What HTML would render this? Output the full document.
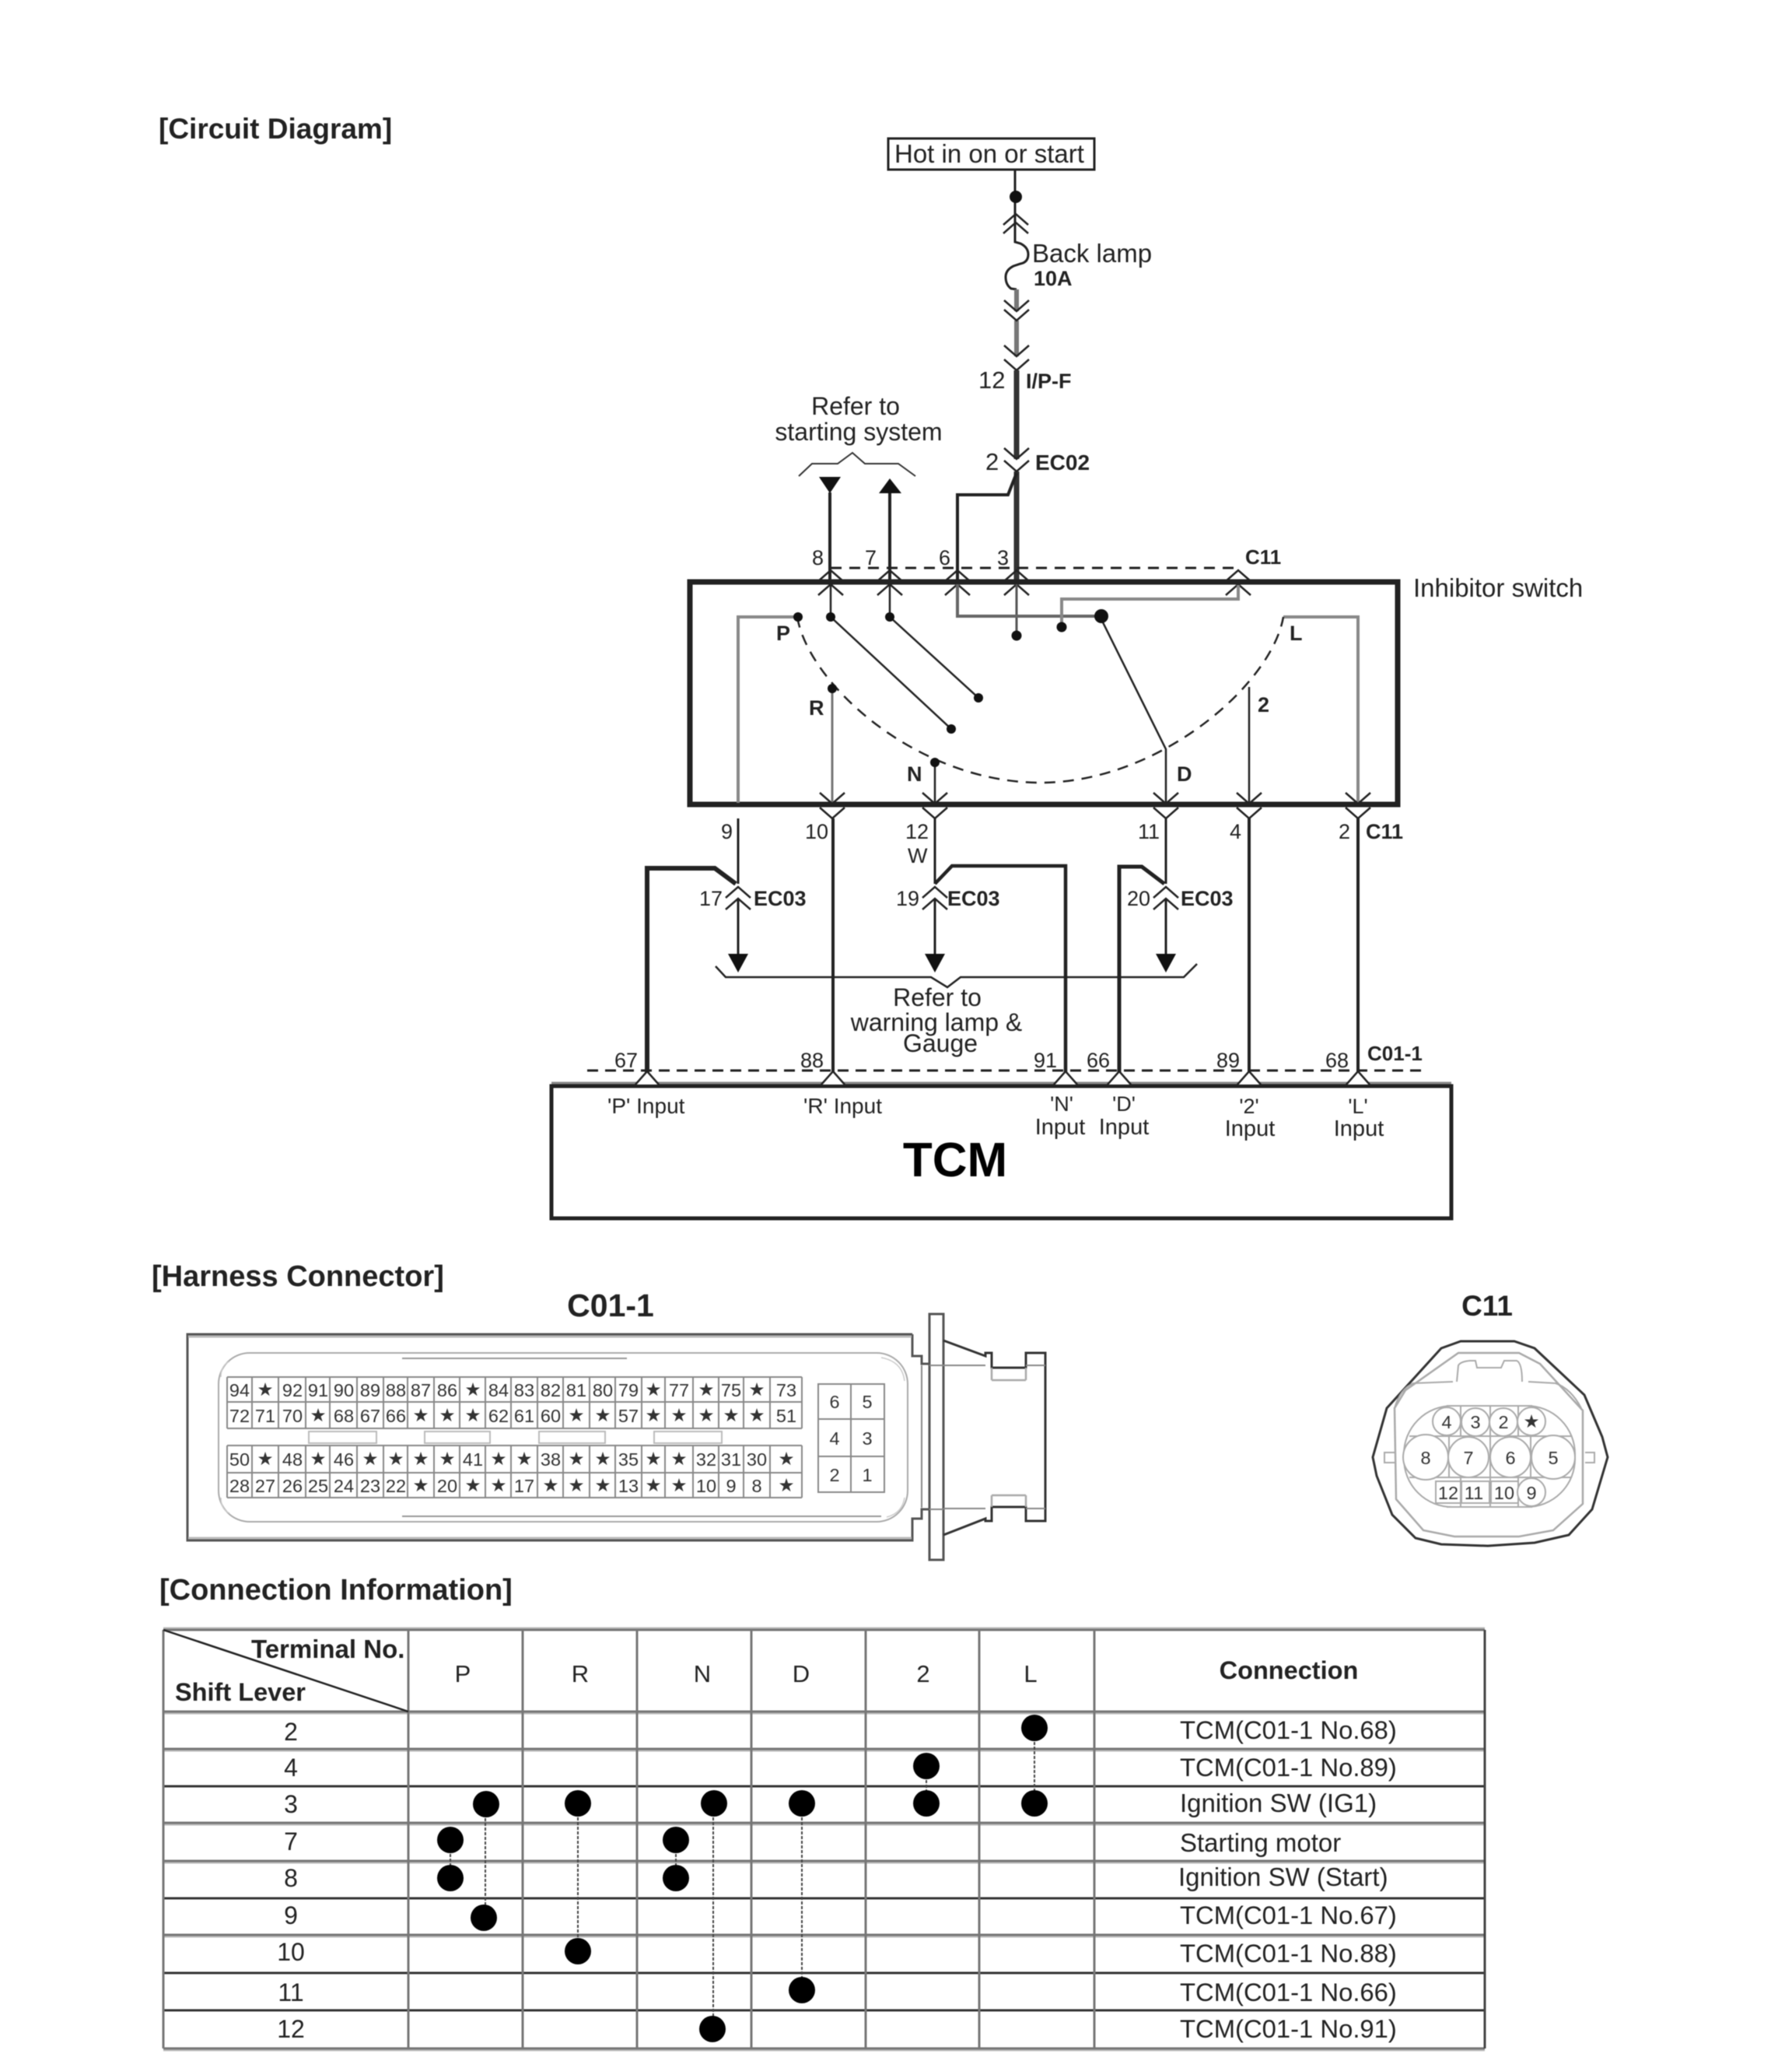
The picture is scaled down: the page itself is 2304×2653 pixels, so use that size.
<!DOCTYPE html>
<html><head><meta charset="utf-8"><style>
html,body{margin:0;padding:0;background:#fff}
svg{display:block;filter:blur(.6px)}
text{font-family:"Liberation Sans","DejaVu Sans",sans-serif;fill:#222;font-size:27px}
.b{font-weight:bold}
.m{text-anchor:middle}
.w{fill:none;stroke:#222;stroke-width:3}
.g{fill:none;stroke:#888;stroke-width:2}
.c{fill:none;stroke:#222;stroke-width:2.5}
.s text{font-size:23.5px;text-anchor:middle;fill:#333}
.st{font-family:"DejaVu Sans",sans-serif;font-size:20px;text-anchor:middle;fill:#111}
</style></head><body>
<svg width="2304" height="2653" viewBox="0 0 2304 2653" xmlns="http://www.w3.org/2000/svg">
<defs>
<path id="u" class="c" d="M-16 14L0 0L16 14"/>
<path id="d" class="c" d="M-16 -14L0 0L16 -14"/>
</defs>
<rect width="2304" height="2653" fill="#fff"/>

<!-- Titles -->
<text class="b" x="204" y="178" style="font-size:37px">[Circuit Diagram]</text>
<text class="b" x="195" y="1653" style="font-size:38px">[Harness Connector]</text>
<text class="b m" x="785" y="1692" style="font-size:41px">C01-1</text>
<text class="b m" x="1912" y="1691" style="font-size:37px">C11</text>
<text class="b" x="205" y="2056" style="font-size:38px">[Connection Information]</text>

<!-- Top feed -->
<rect x="1142" y="178" width="265" height="40" fill="#fff" stroke="#222" stroke-width="3"/>
<text x="1150" y="209" style="font-size:33px">Hot in on or start</text>
<path class="w" d="M1305 219V311L1312 313Q1322 318 1322 327Q1322 337 1312 339L1303 342Q1293 347 1293 356Q1293 366 1300 371L1307 372"/>
<circle cx="1306" cy="253" r="8" fill="#111"/>
<use href="#u" x="1306" y="275"/><use href="#u" x="1306" y="286"/>
<path d="M1307 372V400M1307 412V458" fill="none" stroke="#777" stroke-width="6"/>
<use href="#d" x="1307" y="400"/><use href="#d" x="1307" y="412"/>
<use href="#d" x="1307" y="458"/><use href="#d" x="1307" y="476"/>
<path d="M1307 476V590M1307 606V748" fill="none" stroke="#333" stroke-width="7"/>
<use href="#d" x="1307" y="590"/><use href="#d" x="1307" y="606"/>
<path d="M1307 608L1296 636H1231V748" fill="none" stroke="#222" stroke-width="4"/>
<text x="1327" y="337" style="font-size:33px">Back lamp</text>
<text class="b" x="1329" y="367" style="font-size:27px">10A</text>
<text x="1258" y="499" style="font-size:31px">12</text>
<text class="b" x="1319" y="499" style="font-size:27px">I/P-F</text>
<text class="m" x="1100" y="533" style="font-size:32px">Refer to</text>
<text class="m" x="1104" y="566" style="font-size:32px">starting system</text>
<text x="1267" y="604" style="font-size:31px">2</text>
<text class="b" x="1331" y="604" style="font-size:28px">EC02</text>
<path class="g" style="stroke:#333" d="M1027 612L1044 596H1077L1096 582L1112 596H1155L1177 612"/>
<path d="M1067 633V748M1144 634V748" fill="none" stroke="#222" stroke-width="4"/>
<path d="M1053 613H1081L1067 634Z" fill="#111"/>
<path d="M1130 634H1159L1144 615Z" fill="#111"/>

<!-- Top connector labels -->
<path d="M1068 730H1592" fill="none" stroke="#222" stroke-width="3" stroke-dasharray="14 10"/>
<text x="1044" y="726">8</text><text x="1112" y="726">7</text><text x="1207" y="726">6</text><text x="1282" y="726">3</text>
<text class="b" x="1601" y="725" style="font-size:26px">C11</text>
<text x="1817" y="767" style="font-size:33px">Inhibitor switch</text>

<!-- Inhibitor switch -->
<rect x="887" y="748" width="910" height="286" fill="#fff" stroke="#222" stroke-width="7"/>
<use href="#u" x="1068" y="733"/><use href="#u" x="1144" y="733"/><use href="#u" x="1231" y="733"/><use href="#u" x="1307" y="733"/><use href="#u" x="1592" y="733"/>
<use href="#u" x="1068" y="751"/><use href="#u" x="1144" y="751"/><use href="#u" x="1231" y="751"/><use href="#u" x="1307" y="751"/><use href="#u" x="1592" y="751"/>
<path d="M1068 751V793L1223 937M1144 751V793L1258 897" class="w" style="stroke-width:2.5"/>
<path d="M1307 751V817" fill="none" stroke="#555" stroke-width="3"/>
<path d="M1231 751V792H1414" fill="none" stroke="#666" stroke-width="4"/>
<path d="M1592 752V770H1365V804" fill="none" stroke="#888" stroke-width="4"/>
<path d="M949 1032V793H1028" fill="none" stroke="#888" stroke-width="4"/>
<path d="M1650 793H1746V1032" fill="none" stroke="#888" stroke-width="4"/>
<path d="M1414 792L1499 963V1032M1606 883V1032M1202 978V1032" class="w" style="stroke-width:2.5"/>
<path d="M1070 883V1032" fill="none" stroke="#777" stroke-width="3"/>
<path d="M1025 793C1040 880 1180 1006 1338 1006C1490 1006 1635 880 1650 793" fill="none" stroke="#222" stroke-width="2.5" stroke-dasharray="14 10"/>
<circle cx="1026" cy="793" r="6" fill="#111"/><circle cx="1068" cy="793" r="6" fill="#111"/><circle cx="1144" cy="793" r="6" fill="#111"/>
<circle cx="1307" cy="817" r="6.5" fill="#111"/><circle cx="1365" cy="806" r="6.5" fill="#111"/><circle cx="1416" cy="792" r="9" fill="#111"/>
<circle cx="1258" cy="897" r="6" fill="#111"/><circle cx="1223" cy="937" r="6" fill="#111"/><circle cx="1070" cy="885" r="6" fill="#111"/><circle cx="1202" cy="980" r="6" fill="#111"/>
<text class="b" x="998" y="823">P</text><text class="b" x="1040" y="919">R</text><text class="b" x="1166" y="1004">N</text><text class="b" x="1513" y="1004">D</text><text class="b" x="1617" y="915">2</text><text class="b" x="1658" y="823">L</text>
<use href="#d" x="1070" y="1033"/><use href="#d" x="1202" y="1033"/><use href="#d" x="1499" y="1033"/><use href="#d" x="1606" y="1033"/><use href="#d" x="1746" y="1033"/>
<use href="#d" x="1070" y="1052"/><use href="#d" x="1202" y="1052"/><use href="#d" x="1499" y="1052"/><use href="#d" x="1606" y="1052"/><use href="#d" x="1746" y="1052"/>

<!-- Lower wires -->
<text x="927" y="1078">9</text><text x="1035" y="1078">10</text><text x="1164" y="1078">12</text><text x="1463" y="1078">11</text><text x="1581" y="1078">4</text><text x="1721" y="1078">2</text>
<text class="b" x="1756" y="1078" style="font-size:27px">C11</text>
<text x="1167" y="1109">W</text>
<path d="M949 1052V1136M1202 1052V1136M1499 1052V1136" class="w"/>
<path d="M832 1395V1116H919L946 1136" fill="none" stroke="#222" stroke-width="6"/>
<path d="M1202 1136L1224 1113H1370V1395" fill="none" stroke="#222" stroke-width="4.5"/>
<path d="M1439 1395V1114H1468L1497 1136" fill="none" stroke="#222" stroke-width="5"/>
<path d="M1071 1052V1395M1606 1052V1395M1746 1052V1395" fill="none" stroke="#222" stroke-width="4"/>
<use href="#u" x="949" y="1140"/><use href="#u" x="1202" y="1140"/><use href="#u" x="1499" y="1140"/>
<use href="#u" x="949" y="1155"/><use href="#u" x="1202" y="1155"/><use href="#u" x="1499" y="1155"/>
<text x="899" y="1164">17</text><text class="b" x="969" y="1164">EC03</text>
<text x="1152" y="1164">19</text><text class="b" x="1218" y="1164">EC03</text>
<text x="1449" y="1164">20</text><text class="b" x="1518" y="1164">EC03</text>
<path d="M949 1155V1230M1202 1155V1230M1499 1155V1230" class="w"/>
<path d="M936 1226H962L949 1250Z" fill="#111"/>
<path d="M1189 1226H1215L1202 1250Z" fill="#111"/>
<path d="M1486 1226H1512L1499 1250Z" fill="#111"/>
<path class="w" style="stroke-width:2.5" d="M920 1242L933 1256H1197L1218 1269L1235 1256H1522L1539 1239"/>
<text class="m" x="1205" y="1293" style="font-size:32px">Refer to</text>
<text class="m" x="1204" y="1325" style="font-size:32px">warning lamp &amp;</text>
<text class="m" x="1209" y="1352" style="font-size:32px">Gauge</text>

<!-- TCM -->
<path d="M755 1376H1830" fill="none" stroke="#222" stroke-width="3" stroke-dasharray="14 9"/>
<text x="790" y="1372">67</text><text x="1029" y="1372">88</text><text x="1329" y="1372">91</text><text x="1397" y="1372">66</text><text x="1564" y="1372">89</text><text x="1704" y="1372">68</text>
<text class="b" x="1758" y="1363" style="font-size:26px">C01-1</text>
<rect x="709" y="1396" width="1157" height="170" fill="#fff" stroke="#222" stroke-width="5"/>
<path d="M709 1392H1866" fill="none" stroke="#888" stroke-width="3"/>
<g fill="#fff" stroke="#222" stroke-width="2.5">
<path d="M817 1394L832 1377L847 1394"/><path d="M1056 1394L1071 1377L1086 1394"/><path d="M1355 1394L1370 1377L1385 1394"/><path d="M1424 1394L1439 1377L1454 1394"/><path d="M1591 1394L1606 1377L1621 1394"/><path d="M1731 1394L1746 1377L1761 1394"/>
</g>
<text x="781" y="1431" style="font-size:28px">'P' Input</text><text x="1033" y="1431" style="font-size:28px">'R' Input</text>
<text class="m" x="1365" y="1428">'N'</text><text class="m" x="1363" y="1458" style="font-size:29px">Input</text>
<text class="m" x="1445" y="1428">'D'</text><text class="m" x="1445" y="1458" style="font-size:29px">Input</text>
<text class="m" x="1606" y="1431">'2'</text><text class="m" x="1607" y="1460" style="font-size:29px">Input</text>
<text class="m" x="1746" y="1431">'L'</text><text class="m" x="1747" y="1460" style="font-size:29px">Input</text>
<text class="b m" x="1228" y="1512" style="font-size:62px;fill:#000">TCM</text>

<!-- C01-1 connector -->
<path d="M1173 1715H241V1980H1173V1952H1185V1940H1195M1173 1715V1743H1185V1753H1195" fill="none" stroke="#555" stroke-width="3"/>
<path d="M242 1718H1172M242 1977H1172" fill="none" stroke="#bbb" stroke-width="3"/>
<rect x="1195" y="1689" width="18" height="316" fill="#fff" stroke="#555" stroke-width="3"/>
<path d="M1213 1723L1267 1743V1739H1275V1758H1319V1739H1344V1955H1319V1937H1275V1955H1267V1952L1213 1973" fill="none" stroke="#333" stroke-width="3"/>
<path d="M1185 1755V1938M1213 1755H1267M1213 1939H1267M1319 1755H1344M1319 1939H1344M1195 1755H1213M1195 1940H1213" fill="none" stroke="#888" stroke-width="2"/>
<path d="M1275 1774H1319M1275 1922H1319M1275 1758V1774M1319 1758V1774M1275 1922V1937M1319 1922V1937" fill="none" stroke="#aaa" stroke-width="2.5"/>
<rect x="281" y="1739" width="886" height="217" rx="40" fill="none" stroke="#aaa" stroke-width="2"/>
<path d="M295 1750Q284 1755 284 1770M1133 1745Q1160 1750 1163 1775M295 1945Q284 1940 284 1925M1140 1950Q1160 1945 1163 1925" fill="none" stroke="#ccc" stroke-width="1.5"/>
<path d="M517 1746H806M517 1949H1133" fill="none" stroke="#999" stroke-width="2"/>
<!-- grid -->
<path class="g" d="M292 1770H1031M292 1802H1031M292 1836H1031M292 1858H1031M292 1893H1031M292 1925H1031
M292 1770V1836M324 1770V1836M358 1770V1836M393 1770V1836M424 1770V1836M459 1770V1836M493 1770V1836M524 1770V1836M558 1770V1836M591 1770V1836M624 1770V1836M657 1770V1836M691 1770V1836M724 1770V1836M758 1770V1836M791 1770V1836M825 1770V1836M855 1770V1836M891 1770V1836M924 1770V1836M956 1770V1836M990 1770V1836M1031 1770V1836
M292 1858V1925M324 1858V1925M358 1858V1925M393 1858V1925M424 1858V1925M459 1858V1925M493 1858V1925M524 1858V1925M558 1858V1925M591 1858V1925M624 1858V1925M657 1858V1925M691 1858V1925M724 1858V1925M758 1858V1925M791 1858V1925M825 1858V1925M855 1858V1925M891 1858V1925M924 1858V1925M956 1858V1925M990 1858V1925M1031 1858V1925"/>
<path d="M397 1840H484V1855H397ZM546 1840H630V1855H546ZM693 1840H778V1855H693ZM841 1840H928V1855H841Z" fill="#fff" stroke="#bbb" stroke-width="2"/>
<g class="s">
<text x="308" y="1795">94</text><text class="st" x="341" y="1794">★</text><text x="376" y="1795">92</text><text x="409" y="1795">91</text><text x="442" y="1795">90</text><text x="476" y="1795">89</text><text x="509" y="1795">88</text><text x="541" y="1795">87</text><text x="575" y="1795">86</text><text class="st" x="608" y="1794">★</text><text x="641" y="1795">84</text><text x="674" y="1795">83</text><text x="708" y="1795">82</text><text x="741" y="1795">81</text><text x="775" y="1795">80</text><text x="808" y="1795">79</text><text class="st" x="840" y="1794">★</text><text x="873" y="1795">77</text><text class="st" x="908" y="1794">★</text><text x="940" y="1795">75</text><text class="st" x="973" y="1794">★</text><text x="1011" y="1795">73</text>
<text x="308" y="1828">72</text><text x="341" y="1828">71</text><text x="376" y="1828">70</text><text class="st" x="409" y="1827">★</text><text x="442" y="1828">68</text><text x="476" y="1828">67</text><text x="509" y="1828">66</text><text class="st" x="541" y="1827">★</text><text class="st" x="575" y="1827">★</text><text class="st" x="608" y="1827">★</text><text x="641" y="1828">62</text><text x="674" y="1828">61</text><text x="708" y="1828">60</text><text class="st" x="741" y="1827">★</text><text class="st" x="775" y="1827">★</text><text x="808" y="1828">57</text><text class="st" x="840" y="1827">★</text><text class="st" x="873" y="1827">★</text><text class="st" x="908" y="1827">★</text><text class="st" x="940" y="1827">★</text><text class="st" x="973" y="1827">★</text><text x="1011" y="1828">51</text>
<text x="308" y="1884">50</text><text class="st" x="341" y="1883">★</text><text x="376" y="1884">48</text><text class="st" x="409" y="1883">★</text><text x="442" y="1884">46</text><text class="st" x="476" y="1883">★</text><text class="st" x="509" y="1883">★</text><text class="st" x="541" y="1883">★</text><text class="st" x="575" y="1883">★</text><text x="608" y="1884">41</text><text class="st" x="641" y="1883">★</text><text class="st" x="674" y="1883">★</text><text x="708" y="1884">38</text><text class="st" x="741" y="1883">★</text><text class="st" x="775" y="1883">★</text><text x="808" y="1884">35</text><text class="st" x="840" y="1883">★</text><text class="st" x="873" y="1883">★</text><text x="908" y="1884">32</text><text x="940" y="1884">31</text><text x="973" y="1884">30</text><text class="st" x="1011" y="1883">★</text>
<text x="308" y="1918">28</text><text x="341" y="1918">27</text><text x="376" y="1918">26</text><text x="409" y="1918">25</text><text x="442" y="1918">24</text><text x="476" y="1918">23</text><text x="509" y="1918">22</text><text class="st" x="541" y="1917">★</text><text x="575" y="1918">20</text><text class="st" x="608" y="1917">★</text><text class="st" x="641" y="1917">★</text><text x="674" y="1918">17</text><text class="st" x="708" y="1917">★</text><text class="st" x="741" y="1917">★</text><text class="st" x="775" y="1917">★</text><text x="808" y="1918">13</text><text class="st" x="840" y="1917">★</text><text class="st" x="873" y="1917">★</text><text x="908" y="1918">10</text><text x="940" y="1918">9</text><text x="973" y="1918">8</text><text class="st" x="1011" y="1917">★</text>
</g>
<path class="g" d="M1052 1779H1137V1918H1052ZM1094 1779V1918M1052 1824H1137M1052 1872H1137"/>
<g class="s">
<text x="1073" y="1810">6</text><text x="1115" y="1810">5</text><text x="1073" y="1857">4</text><text x="1115" y="1857">3</text><text x="1073" y="1904">2</text><text x="1115" y="1904">1</text>
</g>

<!-- C11 connector -->
<path d="M1878 1724H1947L1973 1733L2037 1793L2060 1847L2067 1873L2047 1940L2017 1973L1973 1983L1913 1987L1853 1985L1820 1977L1790 1947L1770 1897L1765 1873L1783 1810L1853 1733Z" fill="#fff" stroke="#333" stroke-width="3"/>
<path d="M1875 1739H1953L1980 1753L2035 1813V1933L1997 1967L1953 1975H1870L1830 1967L1795 1927L1793 1810L1807 1787Z" fill="none" stroke="#aaa" stroke-width="2.5"/>
<path d="M1793 1810Q1800 1785 1817 1778L1868 1776M1873 1776L1875 1755Q1878 1750 1890 1749H1897L1899 1758H1930L1934 1749H1950Q1957 1752 1957 1776M1965 1776L2000 1778Q2020 1785 2033 1810M1793 1867H1780V1880H1793M2038 1867H2050V1880H2038" fill="none" stroke="#aaa" stroke-width="2"/>
<rect x="1805" y="1807" width="220" height="130" rx="62" fill="none" stroke="#aaa" stroke-width="2"/>
<path d="M1878 1807V1846M1916 1807V1846M1952 1807V1846M1863 1846V1899M1916 1846V1899M1968 1846V1899M1878 1899V1937M1916 1899V1937M1952 1899V1937M1812 1846H2020M1812 1899H2020M1860 1807H1970M1860 1937H1970" fill="none" stroke="#aaa" stroke-width="2"/>
<g fill="#fff" stroke="#aaa" stroke-width="2">
<circle cx="1833" cy="1873" r="29"/><circle cx="1888" cy="1873" r="26"/><circle cx="1942" cy="1873" r="26"/><circle cx="1997" cy="1873" r="28"/>
<circle cx="1860" cy="1827" r="18"/><circle cx="1897" cy="1828" r="18"/><circle cx="1933" cy="1828" r="18"/><circle cx="1969" cy="1827" r="18"/>
<rect x="1846" y="1904" width="32" height="28"/><rect x="1879" y="1904" width="36" height="28"/><rect x="1917" y="1904" width="35" height="28"/><circle cx="1969" cy="1918" r="18"/>
</g>
<g class="s">
<text x="1833" y="1882">8</text><text x="1888" y="1882">7</text><text x="1942" y="1882">6</text><text x="1997" y="1882">5</text>
<text x="1860" y="1836">4</text><text x="1897" y="1836">3</text><text x="1933" y="1836">2</text><text class="st" x="1969" y="1835">★</text>
<text x="1862" y="1927">12</text><text x="1895" y="1927">11</text><text x="1934" y="1927">10</text><text x="1969" y="1927">9</text>
</g>

<!-- Table -->
<path d="M210 2093H1909M210 2202H1909M210 2250H1909M210 2345H1909M210 2394H1909M210 2489H1909M210 2635H1909" fill="none" stroke="#bbb" stroke-width="3"/>
<path d="M210 2095H1909M210 2200H1909M210 2248H1909M210 2343H1909M210 2392H1909M210 2487H1909M210 2633H1909" fill="none" stroke="#777" stroke-width="3"/>
<path d="M210 2296H1909M210 2440H1909M210 2536H1909M210 2584H1909" fill="none" stroke="#333" stroke-width="3"/>
<path d="M210 2095V2633M525 2095V2633M672 2095V2633M819 2095V2633M966 2095V2633M1113 2095V2633M1259 2095V2633M1407 2095V2633" fill="none" stroke="#777" stroke-width="3"/>
<path d="M1909 2095V2633" fill="none" stroke="#444" stroke-width="3"/>
<path d="M210 2095L525 2200" fill="none" stroke="#222" stroke-width="2.5"/>
<text class="b" x="323" y="2131" style="font-size:33px">Terminal No.</text>
<text class="b" x="225" y="2186" style="font-size:32.5px">Shift Lever</text>
<text class="m" x="595" y="2162" style="font-size:31px">P</text><text class="m" x="746" y="2162" style="font-size:31px">R</text><text class="m" x="903" y="2162" style="font-size:31px">N</text><text class="m" x="1030" y="2162" style="font-size:31px">D</text><text class="m" x="1187" y="2162" style="font-size:31px">2</text><text class="m" x="1325" y="2162" style="font-size:31px">L</text>
<text class="b m" x="1657" y="2158" style="font-size:32.5px">Connection</text>
<text class="m" x="374" y="2237" style="font-size:32px">2</text>
<text class="m" x="374" y="2283" style="font-size:32px">4</text>
<text class="m" x="374" y="2330" style="font-size:32px">3</text>
<text class="m" x="374" y="2378" style="font-size:32px">7</text>
<text class="m" x="374" y="2425" style="font-size:32px">8</text>
<text class="m" x="374" y="2473" style="font-size:32px">9</text>
<text class="m" x="374" y="2520" style="font-size:32px">10</text>
<text class="m" x="374" y="2572" style="font-size:32px">11</text>
<text class="m" x="374" y="2619" style="font-size:32px">12</text>
<text x="1517" y="2235" style="font-size:32.8px">TCM(C01-1 No.68)</text>
<text x="1517" y="2283" style="font-size:32.8px">TCM(C01-1 No.89)</text>
<text x="1517" y="2329" style="font-size:33px">Ignition SW (IG1)</text>
<text x="1517" y="2380" style="font-size:33px">Starting motor</text>
<text x="1515" y="2424" style="font-size:33px">Ignition SW (Start)</text>
<text x="1517" y="2473" style="font-size:32.8px">TCM(C01-1 No.67)</text>
<text x="1517" y="2522" style="font-size:32.8px">TCM(C01-1 No.88)</text>
<text x="1517" y="2572" style="font-size:32.8px">TCM(C01-1 No.66)</text>
<text x="1517" y="2619" style="font-size:32.8px">TCM(C01-1 No.91)</text>
<path d="M624 2319V2465M743 2318V2508M917 2318V2608M1031 2318V2558M579 2365V2414M869 2365V2414M1191 2270V2318M1330 2221V2318" fill="none" stroke="#444" stroke-width="2" stroke-dasharray="4 2"/>
<g fill="#000">
<circle cx="625" cy="2319" r="17"/><circle cx="743" cy="2318" r="17"/><circle cx="918" cy="2318" r="17"/><circle cx="1031" cy="2318" r="17"/>
<circle cx="579" cy="2365" r="17"/><circle cx="869" cy="2365" r="17"/><circle cx="579" cy="2414" r="17"/><circle cx="869" cy="2414" r="17"/>
<circle cx="622" cy="2465" r="17"/><circle cx="743" cy="2508" r="17"/><circle cx="1031" cy="2558" r="17"/><circle cx="916" cy="2608" r="17"/>
<circle cx="1330" cy="2221" r="17"/><circle cx="1191" cy="2270" r="17"/><circle cx="1191" cy="2318" r="17"/><circle cx="1330" cy="2318" r="17"/>
</g>
</svg>
</body></html>
